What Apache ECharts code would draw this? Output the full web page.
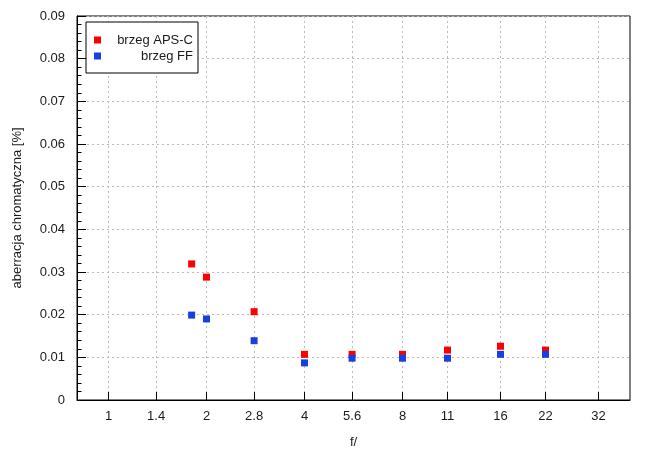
<!DOCTYPE html>
<html>
<head>
<meta charset="utf-8">
<script src="https://cdn.jsdelivr.net/npm/echarts@6/dist/echarts.min.js"></script>
<style>html,body{margin:0;padding:0;background:#fff}#c{width:655px;height:455px}</style>
</head>
<body>
<div id="c"></div>
<script>
// f-numbers of measurements
const fNumbers = [1.8, 2, 2.8, 4, 5.6, 8, 11, 16, 22];
// chromatic aberration [%]
const apscValues = [0.0319, 0.0288, 0.0207, 0.0107, 0.0107, 0.0107, 0.0117, 0.0126, 0.0117];
const ffValues   = [0.0199, 0.0190, 0.0139, 0.0087, 0.0098, 0.0098, 0.0098, 0.0107, 0.0107];
// x tick labels (f-stops)
const xTickLabels = ['1', '1.4', '2', '2.8', '4', '5.6', '8', '11', '16', '22', '32'];
const xRange = [0.8, 40];
const yTickLabels = ['0', '0.01', '0.02', '0.03', '0.04', '0.05', '0.06', '0.07', '0.08', '0.09'];

const lg = v => Math.log2(v);
const xTickPos = xTickLabels.map(s => lg(parseFloat(s)));
const labelMap = {};
xTickLabels.forEach((s, i) => { labelMap[xTickPos[i].toFixed(6)] = s; });

const font = 'Liberation Sans, Arial, sans-serif';
const fs = 13;
const tc = '#1a1a1a';
const chart = echarts.init(document.getElementById('c'), null, {renderer: 'canvas'});
const gridLine = {show: true, lineStyle: {color: '#bbbbbb', type: [2, 3], width: 1}};

chart.setOption({
  animation: false,
  backgroundColor: '#fff',
  grid: {left: 77, right: 25, top: 16, bottom: 55, show: true, borderColor: '#000', borderWidth: 1, backgroundColor: 'transparent'},
  legend: {
    left: 86, top: 22,
    orient: 'vertical',
    backgroundColor: '#fff',
    borderColor: '#000', borderWidth: 1,
    padding: [10, 5, 9, 8],
    itemWidth: 7, itemHeight: 7, itemGap: 0,
    icon: 'rect',
    formatter: n => '{a|' + n + '}',
    textStyle: {
      fontFamily: font, fontSize: fs, color: tc, lineHeight: 16, height: 16,
      rich: {a: {width: 87, height: 16, align: 'right', lineHeight: 16, fontFamily: font, fontSize: fs, color: tc}}
    },
    data: ['brzeg APS-C', 'brzeg FF']
  },
  xAxis: {
    type: 'value',
    min: lg(xRange[0]), max: lg(xRange[1]),
    name: 'f/', nameLocation: 'middle', nameGap: 36,
    nameTextStyle: {fontFamily: font, fontSize: fs, color: tc},
    axisLine: {show: true, onZero: false, lineStyle: {color: '#000', width: 1}},
    axisTick: {show: true, inside: true, length: 8, customValues: xTickPos, lineStyle: {color: '#000'}},
    axisLabel: {show: true, customValues: xTickPos, margin: 10, fontFamily: font, fontSize: fs, color: tc,
      formatter: v => labelMap[v.toFixed(6)] || ''},
    splitLine: gridLine
  },
  yAxis: {
    type: 'value',
    min: 0, max: 0.09, interval: 0.01,
    name: 'aberracja chromatyczna [%]', nameLocation: 'middle', nameGap: 53,
    nameTextStyle: {fontFamily: font, fontSize: fs, color: tc},
    axisLine: {show: true, onZero: false, lineStyle: {color: '#000', width: 1}},
    axisTick: {show: true, inside: true, length: 9, lineStyle: {color: '#000'}},
    minorTick: {show: true, splitNumber: 5, length: 4.5, lineStyle: {color: '#000'}},
    axisLabel: {margin: 12, fontFamily: font, fontSize: fs, color: tc,
      formatter: (v) => yTickLabels[Math.round(v * 100)]},
    splitLine: gridLine
  },
  series: [
    {name: 'brzeg APS-C', type: 'scatter', symbol: 'rect', symbolSize: 7,
      itemStyle: {color: '#ff0000', opacity: 1},
      data: fNumbers.map((f, i) => [lg(f), apscValues[i]])},
    {name: 'brzeg FF', type: 'scatter', symbol: 'rect', symbolSize: 7,
      itemStyle: {color: '#1a3fe0', opacity: 1},
      data: fNumbers.map((f, i) => [lg(f), ffValues[i]])}
  ]
});
</script>
</body>
</html>
